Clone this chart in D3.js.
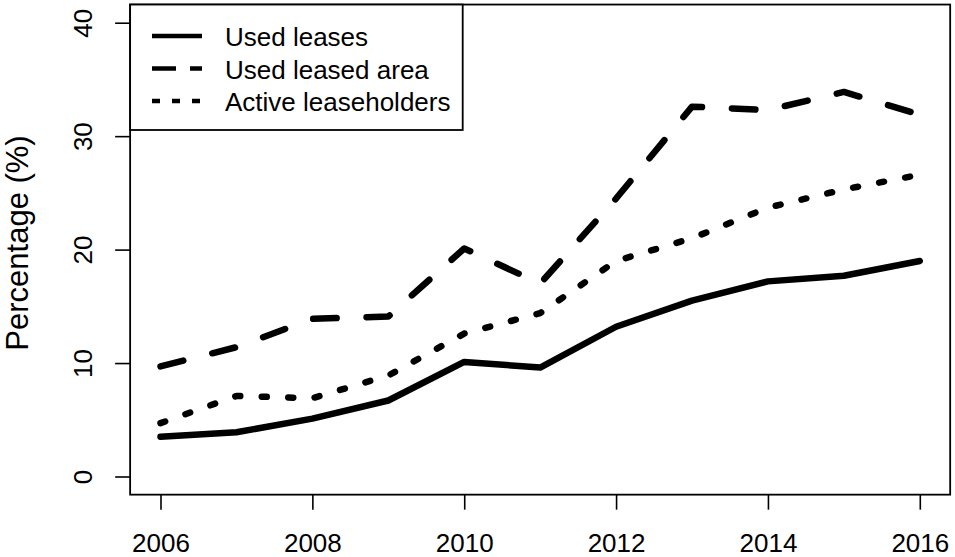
<!DOCTYPE html>
<html>
<head>
<meta charset="utf-8">
<script src="https://cdn.jsdelivr.net/npm/d3@7"></script>
<style>
  html, body { margin: 0; padding: 0; background: #fff; }
  svg { display: block; font-family: "Liberation Sans", Arial, sans-serif; }
</style>
</head>
<body>
<svg id="chart" width="955" height="557"></svg>
<script>
const years = [2006, 2007, 2008, 2009, 2010, 2011, 2012, 2013, 2014, 2015, 2016];
const usedLeases = [3.5, 3.9, 5.1, 6.7, 10.1, 9.6, 13.2, 15.5, 17.2, 17.7, 19.0];
const usedLeasedArea = [9.7, 11.4, 13.9, 14.1, 20.1, 17.0, 24.5, 32.6, 32.3, 33.9, 31.9];
const activeLeaseholders = [4.7, 7.1, 6.9, 8.9, 12.6, 14.4, 19.0, 21.0, 23.7, 25.3, 26.6];
const xTicks = [2006, 2008, 2010, 2012, 2014, 2016];
const yTicks = [0, 10, 20, 30, 40];
const seriesNames = ["Used leases", "Used leased area", "Active leaseholders"];
const yTitle = "Percentage (%)";

const svg = d3.select("#chart");
const x = d3.scaleLinear().domain([2006, 2016]).range([160.5, 919.8]);
const y = d3.scaleLinear().domain([0, 40]).range([476.5, 22.7]);

const xPad = (2016 - 2006) * 0.04, yPad = 40 * 0.04;
const plotLeft = x(2006 - xPad), plotRight = x(2016 + xPad);
const plotTop = y(40 + yPad), plotBottom = y(0 - yPad);

const styles = [
  { dash: null, cap: "round", legDash: null },
  { dash: "23.5,29.9", cap: "round", legDash: "24,14" },
  { dash: "5,21.5", cap: "round", legDash: "8,12" }
];
const seriesData = [usedLeases, usedLeasedArea, activeLeaseholders];

// lines
const line = d3.line().x((d, i) => x(years[i])).y(d => y(d));
seriesData.forEach((vals, k) => {
  svg.append("path")
    .datum(vals)
    .attr("d", line)
    .attr("fill", "none")
    .attr("stroke", "#000")
    .attr("stroke-width", 6.5)
    .attr("stroke-linecap", styles[k].cap)
    .attr("stroke-linejoin", "round")
    .attr("stroke-dasharray", styles[k].dash);
});

// x axis
const gx = svg.append("g").attr("transform", `translate(0,${plotBottom})`)
  .call(d3.axisBottom(x).tickValues(xTicks).tickFormat(d3.format("d")).tickSize(15));
gx.select(".domain").remove();
gx.selectAll("line").attr("stroke", "#000").attr("stroke-width", 1.6);
gx.selectAll("text").attr("dy", null).attr("y", 552.5 - plotBottom)
  .attr("font-size", 26).attr("fill", "#000").attr("font-family", "Liberation Sans, Arial, sans-serif");

// y axis
const gy = svg.append("g").attr("transform", `translate(${plotLeft},0)`)
  .call(d3.axisLeft(y).tickValues(yTicks).tickSize(15));
gy.select(".domain").remove();
gy.selectAll("line").attr("stroke", "#000").attr("stroke-width", 1.6);
gy.selectAll("text")
  .attr("x", null).attr("dy", null)
  .attr("transform", `translate(${91.5 - plotLeft},0) rotate(-90)`)
  .attr("text-anchor", "middle")
  .attr("font-size", 26).attr("fill", "#000").attr("font-family", "Liberation Sans, Arial, sans-serif");

// y title
svg.append("text")
  .attr("transform", "translate(28,243) rotate(-90)")
  .attr("text-anchor", "middle")
  .attr("font-size", 31)
  .attr("fill", "#000")
  .text(yTitle);

// plot box
svg.append("rect")
  .attr("x", plotLeft).attr("y", plotTop)
  .attr("width", plotRight - plotLeft).attr("height", plotBottom - plotTop)
  .attr("fill", "none").attr("stroke", "#000").attr("stroke-width", 1.8);

// legend
const leg = svg.append("g");
leg.append("rect")
  .attr("x", plotLeft).attr("y", plotTop)
  .attr("width", 462.7 - plotLeft).attr("height", 130 - plotTop)
  .attr("fill", "#fff").attr("stroke", "#000").attr("stroke-width", 1.8);
const rowY = [36, 68.5, 101];
seriesNames.forEach((name, k) => {
  leg.append("line")
    .attr("x1", 152).attr("x2", 202)
    .attr("y1", rowY[k]).attr("y2", rowY[k])
    .attr("stroke", "#000").attr("stroke-width", 4.5)
    .attr("stroke-dasharray", styles[k].legDash);
  leg.append("text")
    .attr("x", 225).attr("y", rowY[k] + 10)
    .attr("font-size", 26).attr("fill", "#000")
    .text(name);
});
</script>
</body>
</html>
